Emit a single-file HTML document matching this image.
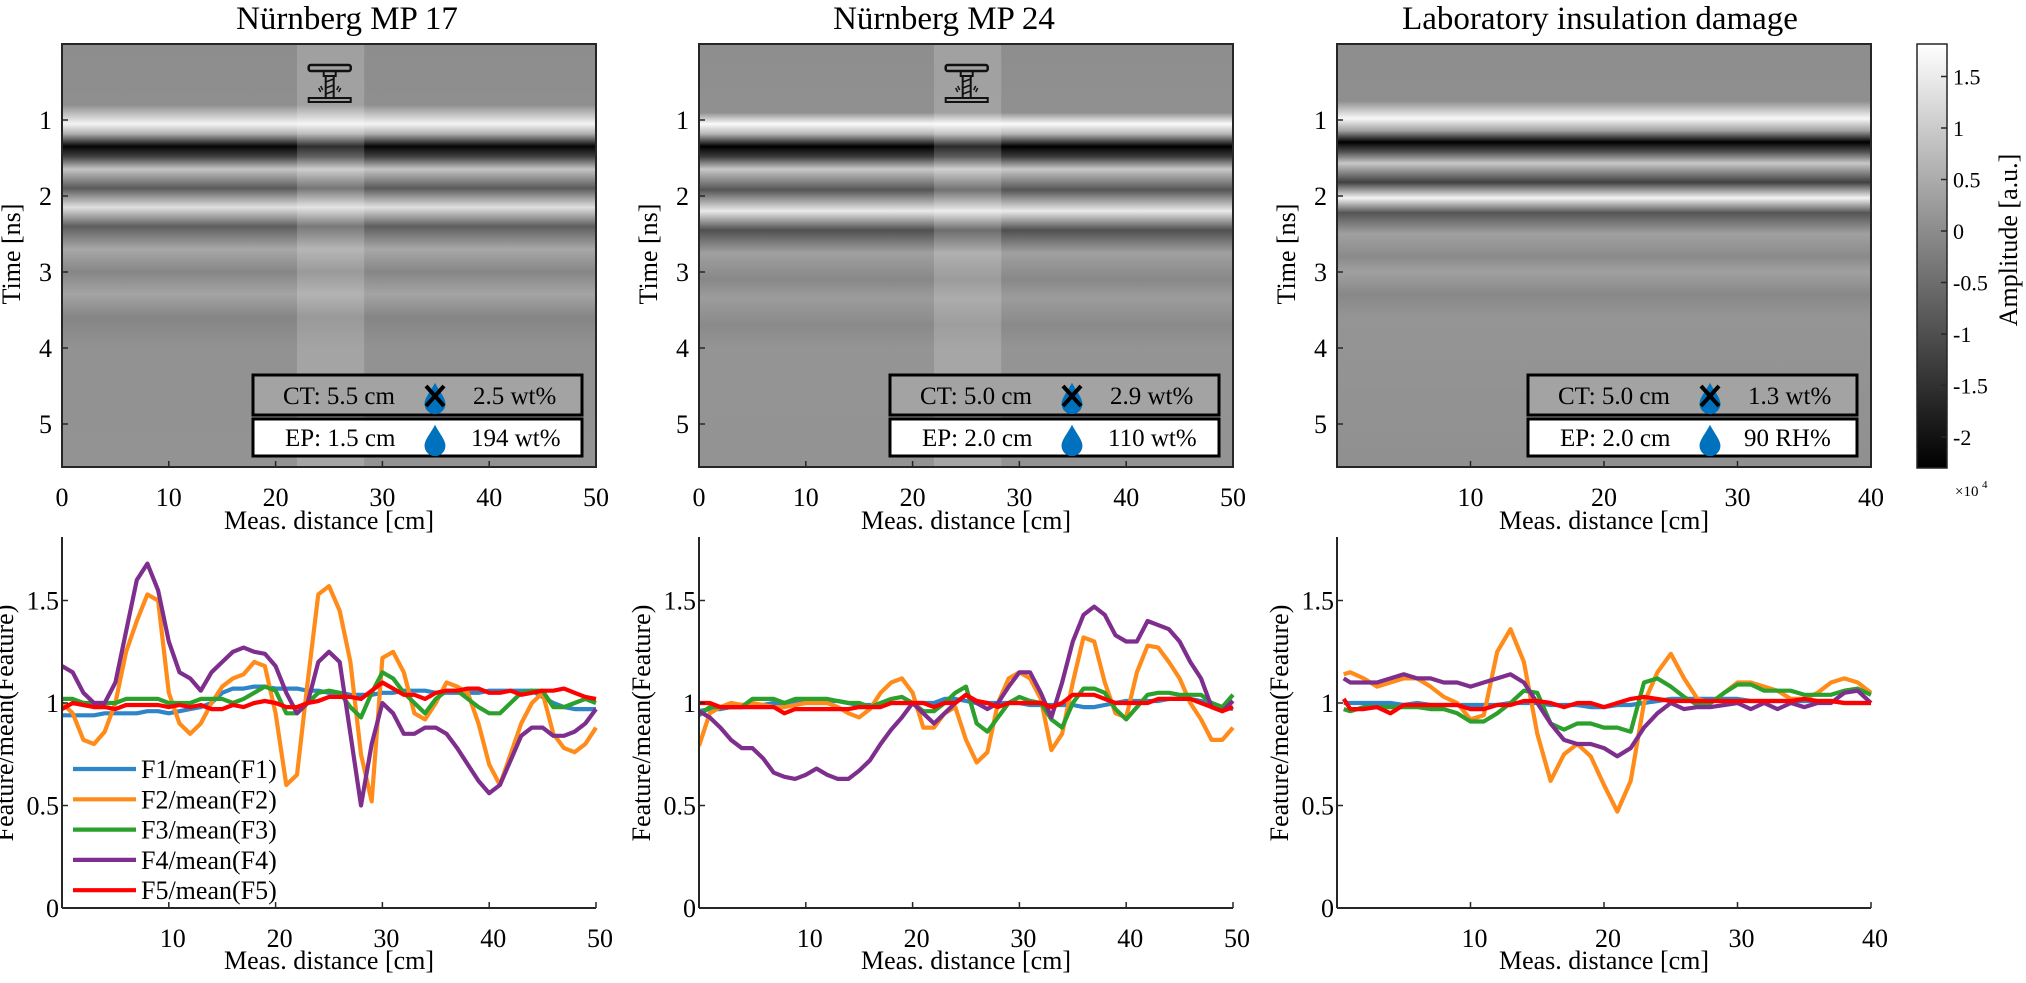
<!DOCTYPE html>
<html><head><meta charset="utf-8"><style>
html,body{margin:0;padding:0;background:#fff;}
svg{display:block;font-family:"Liberation Serif",serif;}
</style></head><body>
<svg id="fig" width="2026" height="983" viewBox="0 0 2026 983" xmlns="http://www.w3.org/2000/svg">
<defs>
<linearGradient id="g1" x1="0" y1="0" x2="0" y2="1">
<stop offset="0" stop-color="#8d8d8d"/><stop offset="0.144" stop-color="#8f8f8f"/><stop offset="0.189" stop-color="#f4f4f4"/><stop offset="0.212" stop-color="#b0b0b0"/><stop offset="0.242" stop-color="#050505"/><stop offset="0.266" stop-color="#404040"/><stop offset="0.296" stop-color="#c4c4c4"/><stop offset="0.341" stop-color="#5a5a5a"/><stop offset="0.386" stop-color="#e0e0e0"/><stop offset="0.431" stop-color="#5e5e5e"/><stop offset="0.485" stop-color="#a8a8a8"/><stop offset="0.539" stop-color="#868686"/><stop offset="0.592" stop-color="#a4a4a4"/><stop offset="0.646" stop-color="#858585"/><stop offset="0.718" stop-color="#929292"/><stop offset="1" stop-color="#939393"/>
</linearGradient>
<linearGradient id="g2" x1="0" y1="0" x2="0" y2="1">
<stop offset="0" stop-color="#8e8e8e"/><stop offset="0.162" stop-color="#909090"/><stop offset="0.189" stop-color="#fafafa"/><stop offset="0.212" stop-color="#b8b8b8"/><stop offset="0.242" stop-color="#000"/><stop offset="0.266" stop-color="#3a3a3a"/><stop offset="0.296" stop-color="#c8c8c8"/><stop offset="0.345" stop-color="#555"/><stop offset="0.395" stop-color="#eaeaea"/><stop offset="0.44" stop-color="#505050"/><stop offset="0.494" stop-color="#a0a0a0"/><stop offset="0.557" stop-color="#888"/><stop offset="0.601" stop-color="#9c9c9c"/><stop offset="0.664" stop-color="#8a8a8a"/><stop offset="0.718" stop-color="#949494"/><stop offset="1" stop-color="#939393"/>
</linearGradient>
<linearGradient id="g3" x1="0" y1="0" x2="0" y2="1">
<stop offset="0" stop-color="#8e8e8e"/><stop offset="0.135" stop-color="#8f8f8f"/><stop offset="0.176" stop-color="#f8f8f8"/><stop offset="0.205" stop-color="#a0a0a0"/><stop offset="0.232" stop-color="#000"/><stop offset="0.255" stop-color="#505050"/><stop offset="0.282" stop-color="#c8c8c8"/><stop offset="0.327" stop-color="#404040"/><stop offset="0.364" stop-color="#f4f4f4"/><stop offset="0.399" stop-color="#555"/><stop offset="0.449" stop-color="#a0a0a0"/><stop offset="0.503" stop-color="#8a8a8a"/><stop offset="0.539" stop-color="#a0a0a0"/><stop offset="0.592" stop-color="#888"/><stop offset="0.646" stop-color="#959595"/><stop offset="1" stop-color="#909090"/>
</linearGradient>
<linearGradient id="gcb" x1="0" y1="0" x2="0" y2="1">
<stop offset="0" stop-color="#fff"/><stop offset="0.44" stop-color="#8c8c8c"/><stop offset="1" stop-color="#000"/>
</linearGradient>
<clipPath id="cp0"><rect x="62" y="537" width="540" height="372"/></clipPath>
<clipPath id="cp1"><rect x="699" y="537" width="540" height="372"/></clipPath>
<clipPath id="cp2"><rect x="1337" y="537" width="540" height="372"/></clipPath>
</defs>
<g id="top"></g>
<g id="bottom"></g>
</svg>
<script>
// ---------- data ----------
const xs50 = [0,1,2,3,4,5,6,7,8,9,10,11,12,13,14,15,16,17,18,19,20,21,22,23,24,25,26,27,28,29,30,31,32,33,34,35,36,37,38,39,40,41,42,43,44,45,46,47,48,49,50];
const xs40 = [0.5,1,2,3,4,5,6,7,8,9,10,11,12,13,14,15,16,17,18,19,20,21,22,23,24,25,26,27,28,29,30,31,32,33,34,35,36,37,38,39,40];
const seriesNames = ["F1/mean(F1)","F2/mean(F2)","F3/mean(F3)","F4/mean(F4)","F5/mean(F5)"];
const seriesColors = ["#2e86c8","#ff8c1a","#2ca02c","#7e2f8e","#ff0000"];

const p1F1 = [0.94,0.94,0.94,0.94,0.95,0.95,0.95,0.95,0.96,0.96,0.95,0.96,0.97,0.98,1.0,1.05,1.07,1.07,1.08,1.08,1.07,1.07,1.07,1.06,1.06,1.05,1.05,1.04,1.04,1.04,1.05,1.05,1.06,1.06,1.06,1.05,1.05,1.05,1.05,1.05,1.06,1.06,1.06,1.06,1.06,1.03,1.0,0.98,0.97,0.97,0.97];
const p1F2 = [1.0,0.95,0.82,0.8,0.86,1.0,1.25,1.4,1.53,1.5,1.05,0.9,0.85,0.9,1.0,1.08,1.12,1.14,1.2,1.18,0.95,0.6,0.65,1.1,1.53,1.57,1.45,1.2,0.75,0.52,1.22,1.25,1.15,0.95,0.92,1.0,1.1,1.08,1.05,0.9,0.7,0.6,0.75,0.9,1.0,1.05,0.85,0.78,0.76,0.8,0.88];
const p1F3 = [1.02,1.02,1.0,1.0,1.0,1.0,1.02,1.02,1.02,1.02,1.0,1.0,1.0,1.02,1.02,1.02,1.0,1.02,1.05,1.08,1.06,0.95,0.95,1.0,1.05,1.06,1.05,0.98,0.93,1.05,1.15,1.12,1.05,1.0,0.95,1.02,1.06,1.06,1.02,0.98,0.95,0.95,1.0,1.05,1.06,1.06,0.98,0.98,1.0,1.02,1.0];
const p1F4 = [1.18,1.15,1.05,1.0,1.0,1.1,1.35,1.6,1.68,1.55,1.3,1.15,1.12,1.06,1.15,1.2,1.25,1.27,1.25,1.24,1.18,1.05,0.95,1.0,1.2,1.25,1.2,0.85,0.5,0.8,1.0,0.95,0.85,0.85,0.88,0.88,0.85,0.78,0.7,0.62,0.56,0.6,0.72,0.84,0.88,0.88,0.84,0.84,0.86,0.9,0.97];
const p1F5 = [0.97,1.0,0.99,0.98,0.98,0.97,0.99,0.99,0.99,0.99,0.98,0.99,0.98,0.99,0.97,0.97,0.99,0.98,1.0,1.01,1.0,0.98,0.98,1.0,1.01,1.03,1.03,1.03,1.02,1.06,1.1,1.07,1.04,1.04,1.02,1.05,1.06,1.06,1.07,1.07,1.05,1.05,1.06,1.04,1.05,1.06,1.06,1.07,1.05,1.03,1.02];

const p2F1 = [0.96,0.97,0.97,0.98,0.98,0.99,0.99,1.0,1.0,1.01,1.01,1.01,1.01,1.01,1.0,0.99,0.99,0.99,1.0,1.0,1.0,1.0,1.0,1.02,1.02,1.01,1.0,1.0,1.0,1.0,1.0,0.99,0.99,0.99,0.99,0.99,0.98,0.98,0.99,1.0,1.01,1.01,1.01,1.01,1.02,1.02,1.02,1.01,1.0,0.98,0.97];
const p2F2 = [0.79,0.95,0.98,1.0,0.99,1.0,0.99,0.98,0.98,0.99,1.0,1.0,1.0,0.98,0.95,0.93,0.97,1.05,1.1,1.12,1.05,0.88,0.88,0.95,0.98,0.82,0.71,0.76,1.0,1.12,1.15,1.12,1.02,0.77,0.85,1.1,1.32,1.3,1.1,0.95,0.93,1.15,1.28,1.27,1.2,1.12,1.0,0.92,0.82,0.82,0.88];
const p2F3 = [0.94,0.98,0.98,0.98,0.98,1.02,1.02,1.02,1.0,1.02,1.02,1.02,1.02,1.01,1.0,1.0,0.98,1.0,1.02,1.03,1.0,0.96,0.96,1.0,1.05,1.08,0.9,0.86,0.93,1.0,1.03,1.01,1.0,0.92,0.88,1.0,1.07,1.07,1.05,0.97,0.92,0.98,1.04,1.05,1.05,1.04,1.04,1.04,1.0,0.98,1.04];
const p2F4 = [0.96,0.93,0.88,0.82,0.78,0.78,0.73,0.66,0.64,0.63,0.65,0.68,0.65,0.63,0.63,0.67,0.72,0.8,0.87,0.93,1.0,0.95,0.9,0.95,1.0,1.04,1.0,0.97,1.0,1.08,1.15,1.15,1.05,0.93,1.1,1.3,1.43,1.47,1.43,1.33,1.3,1.3,1.4,1.38,1.36,1.3,1.2,1.12,0.98,0.96,1.01];
const p2F5 = [1.0,1.0,0.98,0.98,0.98,0.98,0.98,0.98,0.95,0.97,0.97,0.97,0.97,0.97,0.97,0.98,0.98,0.98,1.0,1.0,1.0,1.0,0.98,1.0,1.0,1.04,1.01,1.0,0.98,1.0,1.0,1.0,1.0,0.98,1.0,1.04,1.04,1.04,1.02,1.0,1.0,1.0,1.0,1.02,1.02,1.02,1.02,1.0,0.98,0.96,0.98];

const p3F1 = [1.0,1.0,1.0,1.0,1.0,0.99,1.0,0.99,0.99,0.99,0.99,0.99,0.99,1.0,1.0,1.0,0.99,0.99,0.99,0.98,0.98,0.99,0.99,1.0,1.01,1.02,1.02,1.02,1.02,1.02,1.02,1.01,1.01,1.01,1.01,1.01,1.01,1.01,1.0,1.0,1.0];
const p3F2 = [1.14,1.15,1.12,1.08,1.1,1.12,1.12,1.08,1.03,1.0,0.92,0.94,1.25,1.36,1.2,0.85,0.62,0.75,0.8,0.74,0.6,0.47,0.62,1.0,1.15,1.24,1.12,1.02,1.0,1.05,1.1,1.1,1.08,1.06,1.02,1.02,1.05,1.1,1.12,1.1,1.05];
const p3F3 = [0.97,0.96,0.98,0.98,0.98,0.98,0.98,0.97,0.97,0.95,0.91,0.91,0.95,1.0,1.06,1.05,0.9,0.87,0.9,0.9,0.88,0.88,0.86,1.1,1.12,1.08,1.03,0.99,1.0,1.05,1.09,1.09,1.06,1.06,1.06,1.04,1.04,1.04,1.06,1.07,1.04];
const p3F4 = [1.12,1.1,1.1,1.1,1.12,1.14,1.12,1.12,1.1,1.1,1.08,1.1,1.12,1.14,1.1,1.0,0.9,0.82,0.8,0.8,0.78,0.74,0.78,0.88,0.95,1.0,0.97,0.98,0.98,0.99,1.0,0.97,1.0,0.97,1.0,0.98,1.0,1.0,1.05,1.06,1.0];
const p3F5 = [1.02,0.97,0.97,0.98,0.95,0.99,0.99,0.99,0.99,0.99,0.97,0.97,0.99,0.99,1.01,1.01,1.0,0.98,1.0,1.0,0.98,1.0,1.02,1.03,1.02,1.01,1.01,1.01,1.01,1.01,1.01,1.01,1.01,1.01,1.01,1.02,1.01,1.01,1.0,1.0,1.0];

const timeTicks = [1,2,3,4,5];
const xTicks50 = [0,10,20,30,40,50];
const xTicks40 = [10,20,30,40];
const yTicksB = [0,0.5,1,1.5];
const yTickLabelsB = ["0","0.5","1","1.5"];
const cbTicks = [1.5,1,0.5,0,-0.5,-1,-1.5,-2];
const cbTickLabels = ["1.5","1","0.5","0","-0.5","-1","-1.5","-2"];
const titles = ["Nürnberg MP 17","Nürnberg MP 24","Laboratory insulation damage"];
const ctLabels = ["CT: 5.5 cm","CT: 5.0 cm","CT: 5.0 cm"];
const ctValues = ["2.5 wt%","2.9 wt%","1.3 wt%"];
const epLabels = ["EP: 1.5 cm","EP: 2.0 cm","EP: 2.0 cm"];
const epValues = ["194 wt%","110 wt%","90 RH%"];

// ---------- layout ----------
const NS = "http://www.w3.org/2000/svg";
const L = [62,699,1337];
const W = 534;
const xMax = [50,50,40];
const titleX = [347,944,1600];
const topT = 44, topB = 467, nsPx = 76;
const botT = 537, botB = 908, valPx = 205;
const topG = document.getElementById('top');
const botG = document.getElementById('bottom');

function el(tag, attrs, parent){
  const e = document.createElementNS(NS, tag);
  for (const k in attrs) e.setAttribute(k, attrs[k]);
  parent.appendChild(e);
  return e;
}
function txt(s, attrs, parent){
  const e = el('text', attrs, parent);
  e.textContent = s;
  return e;
}
const xScale = (p, cm) => L[p] + cm * W / xMax[p];
const tScale = t => topT + t * nsPx;
const vScale = v => botB - v * valPx;
const cbScale = v => 231 - v * 103;

function drop(g, cx, cy, s){
  return el('path', {d:`M${cx} ${cy-16*s} C${cx+4*s} ${cy-8*s} ${cx+11*s} ${cy} ${cx+11*s} ${cy+6*s} A${11*s} ${11*s} 0 0 1 ${cx-11*s} ${cy+6*s} C${cx-11*s} ${cy} ${cx-4*s} ${cy-8*s} ${cx} ${cy-16*s} Z`, fill:'#0072bd'}, g);
}
function drill(g, x){
  el('rect',{x:x,y:65,width:42,height:6,rx:2,fill:'none',stroke:'#111','stroke-width':2.5},g);
  el('rect',{x:x+15,y:71,width:12,height:5,fill:'none',stroke:'#111','stroke-width':2},g);
  el('rect',{x:x+17,y:76,width:8,height:22,fill:'none',stroke:'#111','stroke-width':2},g);
  el('path',{d:`M${x+17} ${82} L${x+25} ${79} M${x+17} ${88} L${x+25} ${85} M${x+17} ${94} L${x+25} ${91}`,stroke:'#111','stroke-width':1.5},g);
  el('path',{d:`M${x+10} ${88} l2 4 M${x+32} ${88} l-2 4 M${x+12} ${86} l2 4 M${x+30} ${86} l-2 4`,stroke:'#111','stroke-width':1.5},g);
  el('rect',{x:x,y:98,width:42,height:4,fill:'none',stroke:'#111','stroke-width':2},g);
}

for (let p=0;p<3;p++){
  // ---- top radargram ----
  const g = el('g',{},topG);
  
  
  const t = txt(titles[p],{x:titleX[p],y:29,'font-size':33,'text-anchor':'middle'},g);
  
  
  const img = el('rect',{x:L[p],y:topT,width:W,height:topB-topT,fill:`url(#g${p+1})`},g);
  
  
  if (p<2){
    const hb = el('rect',{x:xScale(p,22),y:topT,width:xScale(p,28.3)-xScale(p,22),height:topB-topT,fill:'#fff','fill-opacity':0.17},g);
    
    
    const dg = el('g',{},g);
    
    
    drill(dg, xScale(p,23.1));
  }
  el('rect',{x:L[p],y:topT,width:W,height:topB-topT,fill:'none',stroke:'#262626','stroke-width':2},g);
  timeTicks.forEach(tv=>{
    const y = tScale(tv);
    el('line',{x1:L[p],y1:y,x2:L[p]+6,y2:y,stroke:'#262626','stroke-width':1.5},g);
    const lb = txt(String(tv),{x:L[p]-10,y:y+9,'font-size':26,'text-anchor':'end'},g);
    
    
  });
  const xt = p<2 ? xTicks50 : xTicks40;
  xt.forEach(cm=>{
    const x = xScale(p,cm);
    el('line',{x1:x,y1:topB,x2:x,y2:topB-6,stroke:'#262626','stroke-width':1.5},g);
    const lb = txt(String(cm),{x:x,y:506,'font-size':26,'text-anchor':'middle'},g);
    
    
  });
  const yl = txt('Time [ns]',{transform:`translate(${L[p]-42},254) rotate(-90)`,'font-size':26,'text-anchor':'middle'},g);
  
  
  const xl = txt('Meas. distance [cm]',{x:L[p]+W/2,y:529,'font-size':26,'text-anchor':'middle'},g);
  
  
  const bx = L[p]+W-343;
  const ib = el('g',{},g);
  
  
  el('rect',{x:bx,y:375,width:329,height:40,fill:'#a3a3a3',stroke:'#000','stroke-width':3},ib);
  el('rect',{x:bx,y:419,width:329,height:37,fill:'#fff',stroke:'#000','stroke-width':3},ib);
  txt(ctLabels[p],{x:bx+30,y:404,'font-size':25},ib);
  txt(ctValues[p],{x:bx+220,y:404,'font-size':25},ib);
  txt(epLabels[p],{x:bx+32,y:446,'font-size':25},ib);
  txt(epValues[p],{x:bx+(p===2?216:218),y:446,'font-size':25},ib);
  drop(ib, bx+182, 398, 0.95);
  el('path',{d:`M${bx+173} ${386} L${bx+191} ${406} M${bx+191} ${386} L${bx+173} ${406}`,stroke:'#000','stroke-width':4},ib);
  drop(ib, bx+182, 440, 0.95);

  // ---- bottom feature plot ----
  const b = el('g',{},botG);
  
  
  const xsArr = p<2 ? xs50 : xs40;
  const sets = [[p1F1,p1F2,p1F3,p1F4,p1F5],[p2F1,p2F2,p2F3,p2F4,p2F5],[p3F1,p3F2,p3F3,p3F4,p3F5]][p];
  const lg = el('g',{'clip-path':`url(#cp${p})`},b);
  sets.forEach((arr,si)=>{
    const d = arr.map((v,i)=>(i?'L':'M')+xScale(p,xsArr[i]).toFixed(1)+' '+vScale(v).toFixed(1)).join(' ');
    const pl = el('path',{d:d,fill:'none',stroke:seriesColors[si],'stroke-width':4.2,'stroke-linejoin':'round'},lg);
    
    
  });
  el('line',{x1:L[p],y1:botT,x2:L[p],y2:botB,stroke:'#262626','stroke-width':2},b);
  el('line',{x1:L[p],y1:botB,x2:L[p]+W,y2:botB,stroke:'#262626','stroke-width':2},b);
  yTicksB.forEach((v,i)=>{
    const y = vScale(v);
    el('line',{x1:L[p],y1:y,x2:L[p]+6,y2:y,stroke:'#262626','stroke-width':1.5},b);
    const lb = txt(yTickLabelsB[i],{x:L[p]-3,y:y+9,'font-size':26,'text-anchor':'end'},b);
    
    
  });
  const bt = p<2 ? [0,10,20,30,40,50] : [0,10,20,30,40];
  bt.forEach(cm=>{
    const x = xScale(p,cm);
    el('line',{x1:x,y1:botB,x2:x,y2:botB-6,stroke:'#262626','stroke-width':1.5},b);
    if (cm>0){
      const lb = txt(String(cm),{x:x+4,y:947,'font-size':26,'text-anchor':'middle'},b);
      
      
    }
  });
  const byl = txt('Feature/mean(Feature)',{transform:`translate(${L[p]-49},723) rotate(-90)`,'font-size':26,'text-anchor':'middle'},b);
  
  
  const bxl = txt('Meas. distance [cm]',{x:L[p]+W/2,y:969,'font-size':26,'text-anchor':'middle'},b);
  
  
}

// legend (panel 1 bottom)
const leg = el('g',{},botG);


seriesNames.forEach((n,i)=>{
  const y = 769 + i*30.3;
  const ln = el('line',{x1:73,y1:y,x2:136,y2:y,stroke:seriesColors[i],'stroke-width':4.2},leg);
  
  
  const t = txt(n,{x:141,y:y+9,'font-size':26},leg);
  
  
});

// colorbar
const cb = el('g',{},topG);


el('rect',{x:1917,y:44,width:30,height:424,fill:'url(#gcb)',stroke:'#262626','stroke-width':1.5},cb);
cbTicks.forEach((v,i)=>{
  const y = cbScale(v);
  el('line',{x1:1941,y1:y,x2:1947,y2:y,stroke:'#262626','stroke-width':1.5},cb);
  const lb = txt(cbTickLabels[i],{x:1953,y:y+8,'font-size':22},cb);
  
  
});
const cbl = txt('Amplitude [a.u.]',{transform:'translate(2017,240) rotate(-90)','font-size':26,'text-anchor':'middle'},cb);


const ex = txt('×10',{x:1955,y:496,'font-size':15},cb);


txt('4',{x:1982,y:488,'font-size':11},cb);
</script>
</body></html>
